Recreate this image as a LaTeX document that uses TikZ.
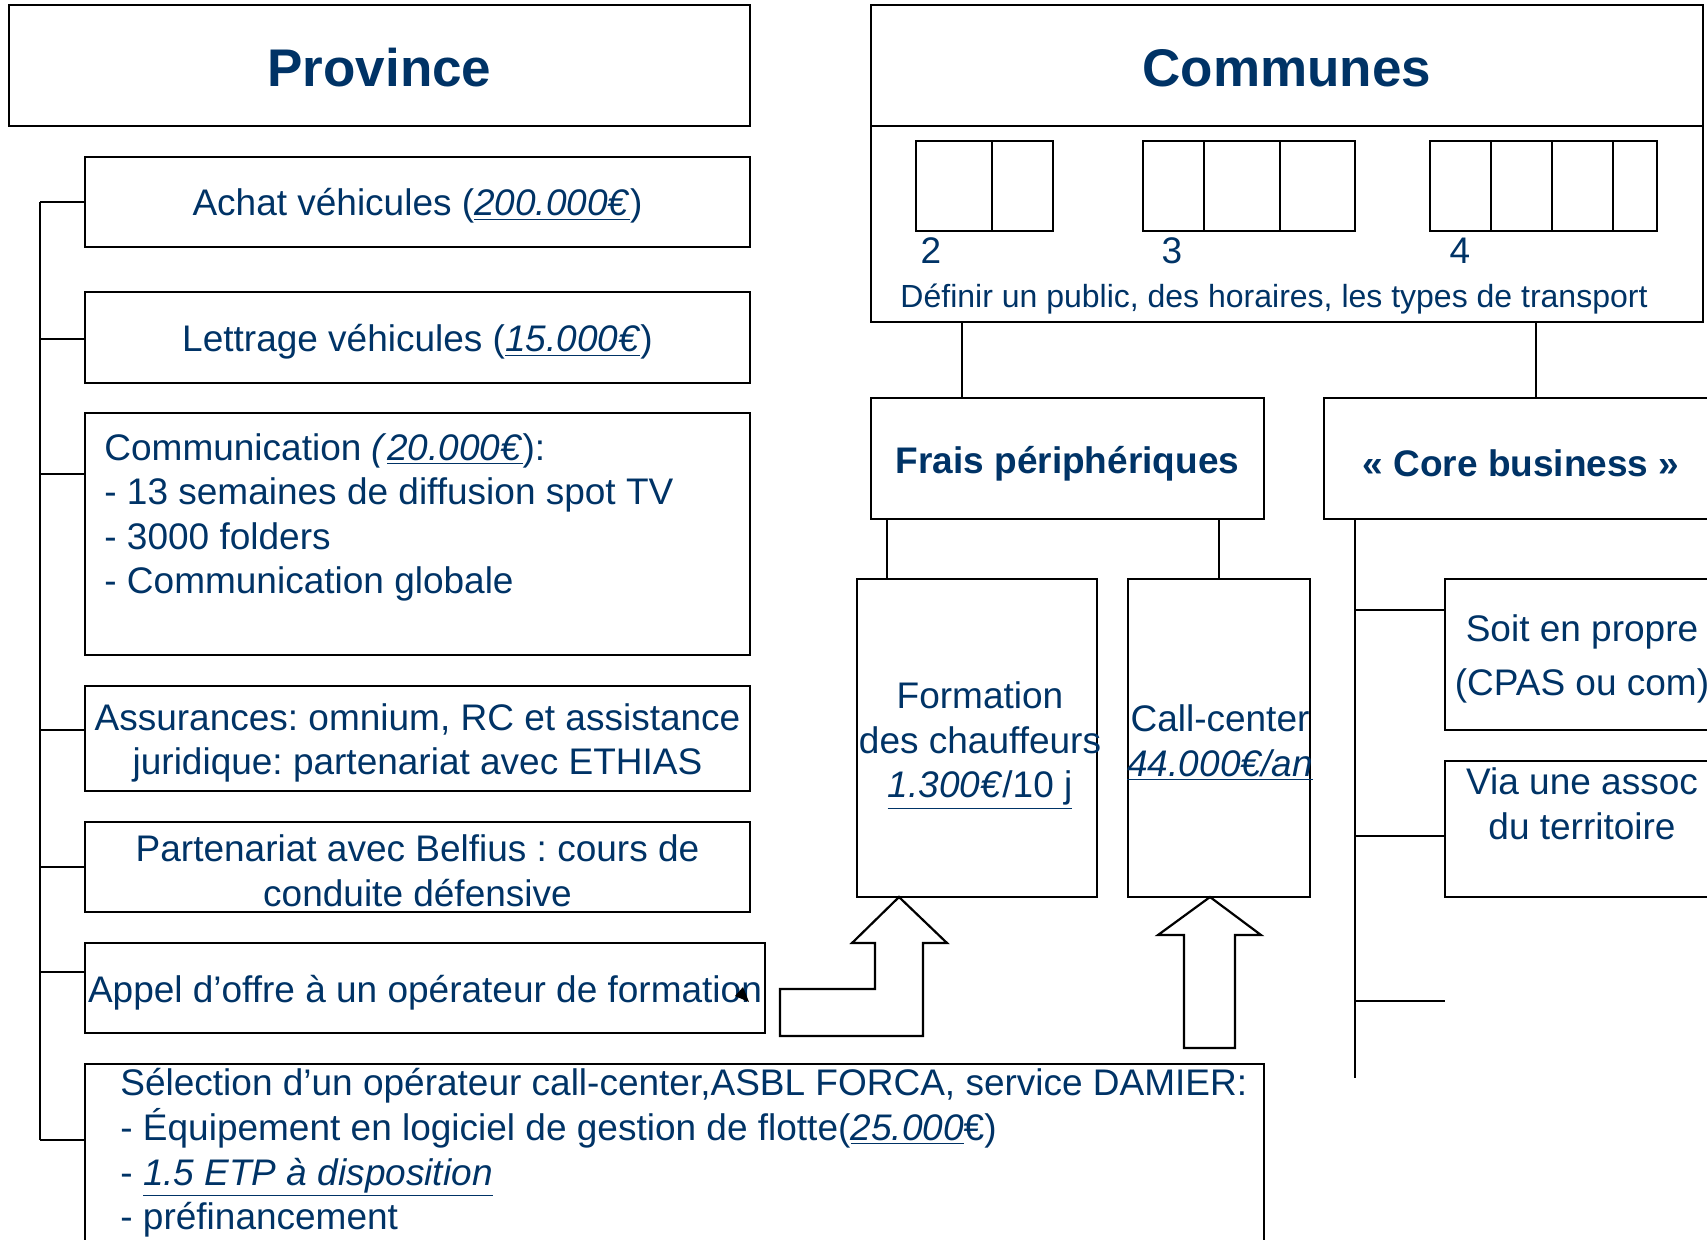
\documentclass[tikz,border=0pt]{standalone}
\usepackage{fontspec}
\setmainfont{Liberation Sans}
\definecolor{navy}{RGB}{0,51,102}
\newcommand{\bodyfont}{\fontsize{18.5}{22.3}\selectfont}
\newcommand{\headfont}{\fontsize{26.5}{30}\selectfont\bfseries}
\newcommand{\costu}[1]{\underline{\textit{#1}}}
\frenchspacing
\begin{document}
\frenchspacing
\begin{tikzpicture}[x=0.5pt,y=-0.5pt]
        \tikzstyle{box} = [draw, line width=1.1pt, inner sep=0pt]
        \tikzstyle{txt} = [text=navy, font=\bodyfont, inner sep=0pt, align=center]
        \tikzstyle{link} = [line width=1pt]
        \tikzstyle{cell} = [line width=1.1pt]

        \useasboundingbox (0,0) rectangle (1707,1239);

        % the two heads
        \node[box, minimum width=370.5pt, minimum height=60.5pt] (prov) at (379.5,65.5) {};
        \node[box, minimum width=416pt, minimum height=60.5pt] (comm) at (1287,65.5) {};
        \node[box, minimum width=416pt, minimum height=98pt] (def) at (1287,224) {};
        \node[txt, font=\headfont] (provtext) at (379.5,68) {Province};
        \node[txt, font=\headfont] (commtext) at (1287,68) {Communes};

        % province side
        \node[box, minimum width=332.5pt, minimum height=45pt] (achat) at (417.5,202) {};
        \node[box, minimum width=332.5pt, minimum height=45.5pt] (lettr) at (417.5,337.5) {};
        \node[box, minimum width=332.5pt, minimum height=121pt] (commu) at (417.5,534) {};
        \node[box, minimum width=332.5pt, minimum height=52.5pt] (assur) at (417.5,738.5) {};
        \node[box, minimum width=332.5pt, minimum height=45pt] (belf) at (417.5,867) {};
        \node[box, minimum width=340pt, minimum height=45pt] (appel) at (425,988) {};
        \node[box, minimum width=589.5pt, minimum height=98pt] (select) at (674.5,1162) {};

        \node[txt] (achattext) at (417.5,206) {Achat véhicules (\costu{200.000€})};
        \node[txt] (lettrtext) at (417.5,342) {Lettrage véhicules (\costu{15.000€})};
        \node[txt, align=left, anchor=west] (commutext) at (104,517.5) {Communication \textit{(}\costu{20.000€}):\\- 13 semaines de diffusion spot TV\\- 3000 folders\\- Communication globale};
        \node[txt] (assurtext) at (417.5,743) {Assurances: omnium, RC et assistance\\juridique: partenariat avec ETHIAS};
        \node[txt] (belftext) at (417.5,871) {Partenariat avec Belfius : cours de\\conduite défensive};
        \node[txt] (appeltext) at (425,992.5) {Appel d’offre à un opérateur de formation};
        \node[txt, align=left, anchor=west] (selecttext) at (120,1153) {Sélection d’un opérateur call-center,ASBL FORCA, service DAMIER:\\- Équipement en logiciel de gestion de flotte(\costu{25.000}€)\\- \costu{1.5 ETP à disposition}\\- préfinancement};

        % spine on the left
        \foreach \b/\y in {achat/202, lettr/339, commu/474, assur/730, belf/867, appel/972, select/1140}
        {
            \coordinate (s\b) at (40,\y);
            \draw[link] (s\b) -- (s\b -| \b.west);
        }
        \draw[link] (sachat) -- (sselect);

        % small arrow tip left in the box
        \fill[black] (735,996) -- (749,1002) -- (743,987) -- cycle;

        % groups of 2, 3 and 4
        \foreach \a/\b in {916/992, 992/1053, 1143/1204, 1204/1280, 1280/1355, 1430/1491, 1491/1552, 1552/1613, 1613/1657}
            \draw[cell] (\a,141) rectangle (\b,231);
        \node[txt] (two) at (931,251) {2};
        \node[txt] (three) at (1172,251) {3};
        \node[txt] (four) at (1460,251) {4};
        \node[txt, font=\fontsize{16}{19}\selectfont] (deftext) at (1274,299.5) {Définir un public, des horaires, les types de transport};

        % communes side
        \node[box, minimum width=196.5pt, minimum height=60.5pt] (frais) at (1067.5,458.5) {};
        \node[box, minimum width=196pt, minimum height=60.5pt] (core) at (1520,458.5) {};
        \node[box, minimum width=120pt, minimum height=159pt] (form) at (977,738) {};
        \node[box, minimum width=91pt, minimum height=159pt] (call) at (1219,738) {};
        \node[box, minimum width=132.5pt, minimum height=75.5pt] (soit) at (1577.5,654.5) {};
        \node[box, minimum width=132.5pt, minimum height=68pt] (via) at (1577.5,829) {};

        \node[txt, font=\bodyfont\bfseries] (fraistext) at (1067.5,464) {Frais périphériques};
        \node[txt, font=\bodyfont\bfseries] (coretext) at (1521,463) {« Core business »};
        \node[txt] (formtext) at (980,745.5) {Formation\\des chauffeurs\\\underline{\textit{1.300€}/10 j}};
        \node[txt] (calltext) at (1220,742.5) {Call-center\\\costu{44.000€/an}};
        \node[txt, font=\fontsize{18.5}{27}\selectfont] (soittext) at (1582,659) {Soit en propre\\(CPAS ou com)};
        \node[txt] (viatext) at (1582,803.5) {Via une assoc\\du territoire};

        % links under the communes
        \coordinate (f1) at (962,398);
        \coordinate (cb) at (1536,398);
        \draw[link] (f1 |- def.south) -- (f1);
        \draw[link] (cb |- def.south) -- (cb);
        \coordinate (l1) at (887,579);
        \draw[link] (l1 |- frais.south) -- (l1);
        \draw[link] (call.north |- frais.south) -- (call.north);

        % core business spine
        \coordinate (cend) at (1355,1078);
        \draw[link] (cend |- core.south) -- (cend);
        \coordinate (c1) at (1355,610);
        \coordinate (c2) at (1355,836);
        \coordinate (c3) at (1355,1001);
        \coordinate (c3e) at (1445,1001);
        \draw[link] (c1) -- (c1 -| soit.west);
        \draw[link] (c2) -- (c2 -| via.west);
        \draw[link] (c3) -- (c3e);

        % block arrows
        \draw[line width=1.1pt, fill=white] (780,989) -- (875,989) -- (875,943) -- (852,943) -- (899,897) -- (947,943) -- (923,943) -- (923,1036) -- (780,1036) -- cycle;
        \draw[line width=1.1pt, fill=white] (1184,1048) -- (1184,935) -- (1158,935) -- (1210,897) -- (1261,935) -- (1235,935) -- (1235,1048) -- cycle;

\end{tikzpicture}
\end{document}
